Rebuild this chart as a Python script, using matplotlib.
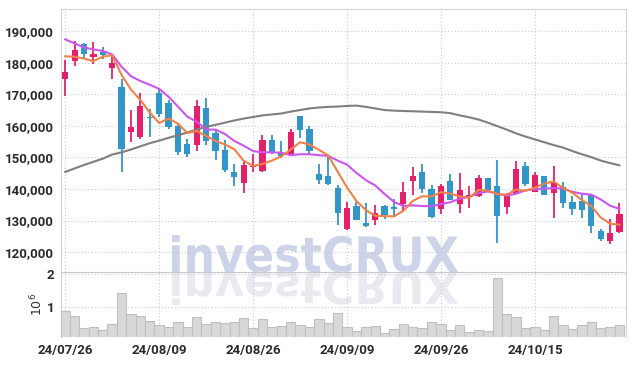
import matplotlib.pyplot as plt
from matplotlib.textpath import TextPath
from matplotlib.patches import PathPatch
from matplotlib.font_manager import FontProperties
from matplotlib.transforms import Affine2D, IdentityTransform

dates = ["24/07/26", "24/07/29", "24/07/30", "24/07/31", "24/08/01", "24/08/02",
         "24/08/05", "24/08/06", "24/08/07", "24/08/08", "24/08/09", "24/08/12",
         "24/08/13", "24/08/14", "24/08/16", "24/08/19", "24/08/20", "24/08/21",
         "24/08/22", "24/08/23", "24/08/26", "24/08/27", "24/08/28", "24/08/29",
         "24/08/30", "24/09/02", "24/09/03", "24/09/04", "24/09/05", "24/09/06",
         "24/09/09", "24/09/10", "24/09/11", "24/09/12", "24/09/13", "24/09/19",
         "24/09/20", "24/09/23", "24/09/24", "24/09/25", "24/09/26", "24/09/27",
         "24/09/30", "24/10/02", "24/10/04", "24/10/07", "24/10/08", "24/10/10",
         "24/10/11", "24/10/14", "24/10/15", "24/10/16", "24/10/17", "24/10/18",
         "24/10/21", "24/10/22", "24/10/23", "24/10/24", "24/10/25", "24/10/28"]

opens = [174800, 180600, 185800, 181800, 183400, 178300, 172200, 158200, 156500, 162800,
         170400, 167100, 160000, 154100, 153900, 165500, 157700, 152200, 145300, 141900,
         146800, 145700, 155400, 151600, 150600, 163100, 158900, 144600, 144100, 140300,
         127400, 134500, 129100, 130300, 134500, 134200, 135100, 142500, 145300, 140100,
         133500, 142400, 135300, 137500, 137900, 143400, 140800, 134400, 138500, 147200,
         139000, 144000, 138700, 140600, 135800, 136100, 138000, 126700, 123500, 126400]
highs = [180900, 187000, 186200, 186500, 184900, 182300, 174900, 164900, 170400, 165400,
         171700, 168300, 160700, 155900, 168100, 168900, 159100, 155400, 147800, 149100,
         151200, 157000, 157200, 155200, 159100, 163200, 159800, 148000, 150600, 141200,
         135900, 135900, 135400, 135000, 134800, 136900, 142200, 147000, 147800, 141200,
         141700, 144800, 145100, 140900, 144300, 143600, 149300, 138700, 148900, 148600,
         145500, 144200, 147300, 142200, 137800, 138500, 138500, 127400, 130400, 135400]
lows = [169300, 179100, 181200, 179700, 181200, 174900, 145400, 154900, 155900, 156500,
        162800, 159100, 150900, 150100, 151900, 153800, 149100, 145400, 140800, 138700,
        145400, 145400, 151000, 149900, 150300, 156200, 151200, 141700, 141200, 128500,
        127100, 130100, 128000, 128500, 130600, 131100, 132700, 138000, 138700, 130900,
        132000, 136400, 132300, 134100, 137500, 139400, 122900, 132200, 138300, 140900,
        139000, 138000, 130900, 134000, 131900, 130900, 126200, 123400, 122500, 126200]
closes = [177200, 184100, 182700, 182900, 182400, 179800, 152700, 159500, 166400, 162400,
          163600, 159600, 151600, 151200, 166200, 155200, 152000, 146000, 143800, 147500,
          147000, 155400, 151400, 150300, 158200, 158700, 151900, 142800, 141500, 132400,
          134100, 130100, 128400, 132500, 131700, 133700, 139100, 144000, 140100, 131100,
          140800, 136500, 139600, 138200, 143400, 139600, 131300, 138500, 146200, 141500,
          144300, 138200, 142000, 135600, 133700, 133200, 128300, 124100, 125900, 132000]
volumes = [880000, 730000, 360000, 390000, 310000, 480000, 1420000, 790000, 730000, 580000,
           450000, 400000, 550000, 400000, 700000, 480000, 550000, 520000, 550000, 670000,
           360000, 640000, 390000, 420000, 550000, 450000, 390000, 640000, 520000, 820000,
           390000, 270000, 390000, 420000, 210000, 330000, 480000, 390000, 360000, 550000,
           480000, 300000, 450000, 240000, 300000, 270000, 1880000, 790000, 700000, 360000,
           400000, 300000, 730000, 450000, 340000, 450000, 550000, 360000, 400000, 450000]
ma5 = [182000, 181900, 181300, 180500, 181900, 182400, 176100, 171500, 168200, 164200,
       160900, 162300, 160700, 157700, 158400, 156800, 155200, 154100, 152600, 148900,
       147300, 147900, 149000, 150300, 152500, 154800, 154100, 152400, 150600, 145500,
       140500, 136200, 133300, 131500, 131400, 131300, 133100, 136200, 137700, 137600,
       139000, 138500, 137600, 137200, 139700, 139500, 138400, 138200, 139800, 139400,
       140400, 141700, 142400, 140300, 138800, 136500, 134600, 131000, 129000, 128700]
ma10 = [187400, 186100, 184800, 184200, 183700, 182600, 178700, 175700, 174200, 173000,
        171700, 169200, 166100, 162900, 161300, 158800, 158800, 157400, 155200, 153700,
        152000, 151600, 151600, 151500, 150700, 151000, 151000, 150700, 150500, 149000,
        147700, 145100, 142800, 141100, 138400, 135900, 134600, 134800, 134600, 134500,
        135200, 135800, 136900, 137500, 138700, 139200, 138500, 137900, 138500, 139600,
        139900, 140100, 140300, 140100, 139100, 138500, 138200, 136700, 134700, 133700]
ma_long = [145400, 146500, 147600, 148600, 149600, 150900, 151600, 152500, 153500, 154500,
           155300, 156200, 157000, 157900, 158800, 159700, 160300, 161000, 161700, 162300,
           162800, 163300, 163600, 163900, 164500, 165000, 165500, 165800, 166000, 166100,
           166300, 166400, 166000, 165500, 165000, 164800, 164700, 164600, 164500, 164400,
           164300, 164000, 163300, 162700, 162000, 161000, 159900, 158800, 157600, 156600,
           155700, 154800, 153900, 153100, 152000, 151000, 150100, 149000, 148200, 147500]

up_color = '#e5206a'
down_color = '#3296c8'
grid_kw = dict(color='#c6c9dd', linestyle=(0, (1, 2)), linewidth=0.8)
tick_font = dict(family='Roboto', weight='bold', size=9.5)

fig = plt.figure(figsize=(6.34, 3.66), dpi=100, facecolor='white')
ax = fig.add_axes([61 / 634, 94 / 366, 565 / 634, 263 / 366], facecolor='none')
axv = fig.add_axes([61 / 634, 29 / 366, 565 / 634, 65 / 366], facecolor='none', sharex=ax)

x = list(range(len(dates)))

# candles
for i in x:
    o, h, l, c = opens[i], highs[i], lows[i], closes[i]
    col = up_color if c >= o else down_color
    ax.vlines(i, l, h, color=col, linewidth=1.3, zorder=3)
    body = max(abs(c - o), 350)
    ax.bar(i, body, bottom=min(o, c), width=0.66, color=col, edgecolor='none', zorder=4)

ax.plot(x, ma_long, color='#7f7f7f', linewidth=1.5, zorder=5)
ax.plot(x, ma10, color='#cc55ee', linewidth=1.5, zorder=5)
ax.plot(x, ma5, color='#f08148', linewidth=1.5, zorder=6)

ax.set_ylim(113700, 197000)
ax.set_xlim(-0.45, 59.7)
yt = [120000, 130000, 140000, 150000, 160000, 170000, 180000, 190000]
ax.set_yticks(yt)
ax.set_yticklabels([f'{v:,}' for v in yt], **tick_font, color='#2a2a2a')
ax.set_xticks(x[::10])
ax.grid(True, **grid_kw)
ax.tick_params(axis='both', length=0, pad=5)
ax.tick_params(axis='x', labelbottom=False)
for s in ['left', 'top', 'right']:
    ax.spines[s].set_color('#d4d4d4')
ax.spines['bottom'].set_color('#c8c8c8')

# volume
axv.bar(x, volumes, width=1.0, color='#d8d8d8', edgecolor='#c0c0c0', linewidth=0.8, zorder=3)
axv.set_ylim(90000, 2060000)
axv.set_yticks([1000000, 2000000])
axv.set_yticklabels(['1', '2'], **tick_font, color='#2a2a2a')
axv.set_xticks(x[::10])
axv.set_xticklabels(dates[::10], **tick_font, color='#2a2a2a')
axv.grid(True, **grid_kw)
axv.tick_params(axis='both', length=0, pad=5)
axv.spines['top'].set_visible(False)
axv.spines['bottom'].set_visible(False)
for s in ['left', 'right']:
    axv.spines[s].set_color('#d4d4d4')
axv.text(-0.042, 0.5, r'$10^6$', transform=axv.transAxes, rotation=90,
         ha='center', va='center', fontsize=9, color='#333333')

# watermark with reflection
prop = FontProperties(family='DejaVu Sans', weight='bold')
tp = TextPath((0, 0), 'investCRUX', size=100, prop=prop)
ext = tp.get_extents()
sx = 286 / ext.width
sy = 37 / (ext.y1 - 0)
base_y = 366 - 272
tr_up = Affine2D().translate(-ext.x0, 0).scale(sx, sy).translate(172, base_y)
tr_dn = Affine2D().translate(-ext.x0, 0).scale(sx, -sy * 0.9).translate(172, base_y)
fig.add_artist(PathPatch(tr_up.transform_path(tp), facecolor='#cdd3e8', edgecolor='none',
                         transform=IdentityTransform(), zorder=-1))
fig.add_artist(PathPatch(tr_dn.transform_path(tp), facecolor='#e9e9f0', edgecolor='none',
                         transform=IdentityTransform(), zorder=-1))

fig.savefig('out.png', dpi=100, facecolor='white')
